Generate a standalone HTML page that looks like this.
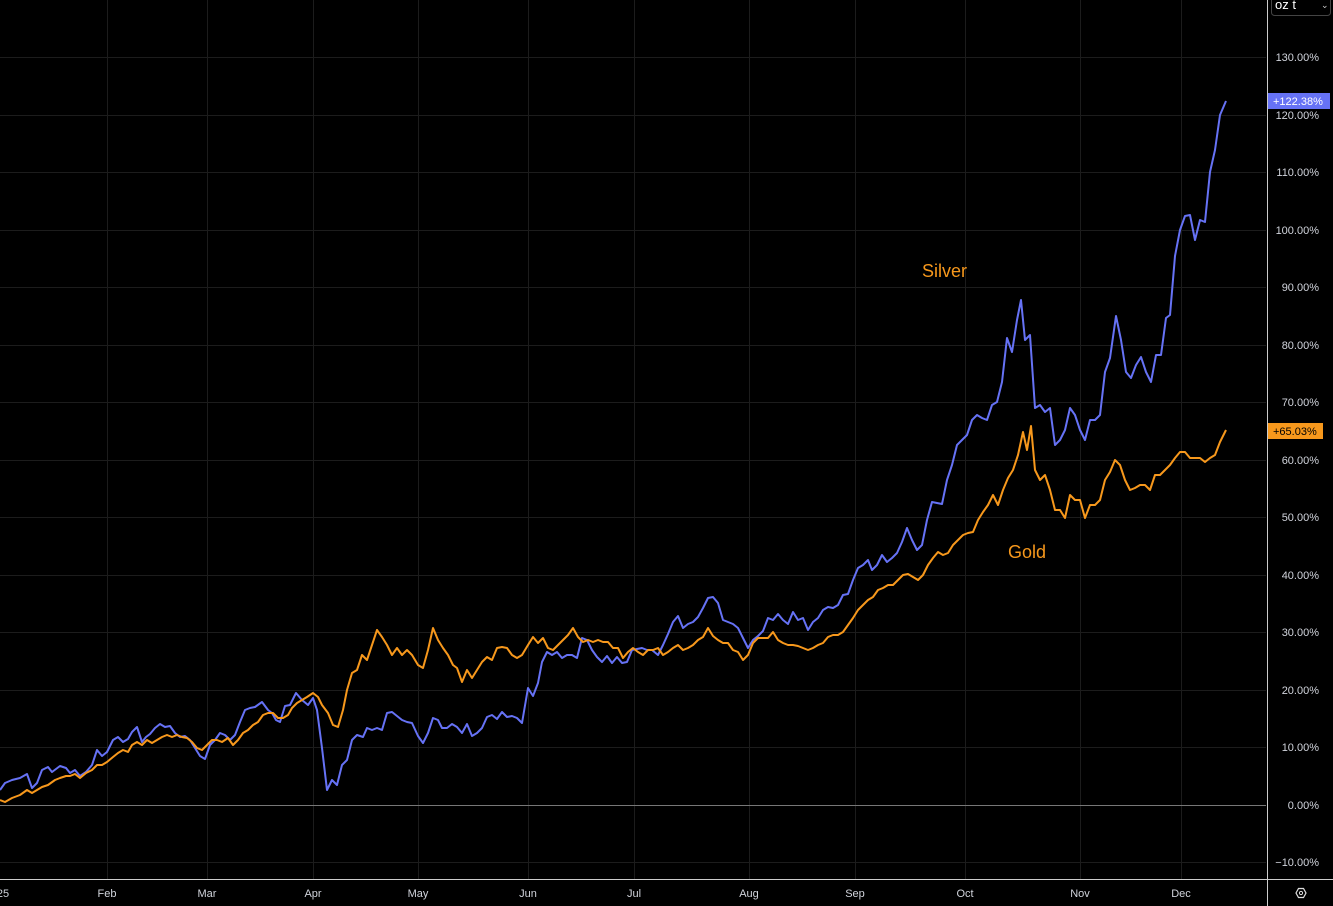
<!DOCTYPE html>
<html><head><style>
html,body{margin:0;padding:0;background:#000;width:1333px;height:906px;overflow:hidden}
svg{display:block;font-family:"Liberation Sans",sans-serif}
</style></head><body>
<svg width="1333" height="906" viewBox="0 0 1333 906">
<rect width="1333" height="906" fill="#000"/>
<g stroke="#1c1c1c" stroke-width="1">
<line x1="0" x2="1266" y1="57.5" y2="57.5"/><line x1="0" x2="1266" y1="115.5" y2="115.5"/><line x1="0" x2="1266" y1="172.5" y2="172.5"/><line x1="0" x2="1266" y1="230.5" y2="230.5"/><line x1="0" x2="1266" y1="287.5" y2="287.5"/><line x1="0" x2="1266" y1="345.5" y2="345.5"/><line x1="0" x2="1266" y1="402.5" y2="402.5"/><line x1="0" x2="1266" y1="460.5" y2="460.5"/><line x1="0" x2="1266" y1="517.5" y2="517.5"/><line x1="0" x2="1266" y1="575.5" y2="575.5"/><line x1="0" x2="1266" y1="632.5" y2="632.5"/><line x1="0" x2="1266" y1="690.5" y2="690.5"/><line x1="0" x2="1266" y1="747.5" y2="747.5"/><line x1="0" x2="1266" y1="862.5" y2="862.5"/>
<line y1="0" y2="879" x1="107.5" x2="107.5"/><line y1="0" y2="879" x1="207.5" x2="207.5"/><line y1="0" y2="879" x1="313.5" x2="313.5"/><line y1="0" y2="879" x1="418.5" x2="418.5"/><line y1="0" y2="879" x1="528.5" x2="528.5"/><line y1="0" y2="879" x1="634.5" x2="634.5"/><line y1="0" y2="879" x1="749.5" x2="749.5"/><line y1="0" y2="879" x1="855.5" x2="855.5"/><line y1="0" y2="879" x1="965.5" x2="965.5"/><line y1="0" y2="879" x1="1080.5" x2="1080.5"/><line y1="0" y2="879" x1="1181.5" x2="1181.5"/>
</g>
<line x1="0" x2="1266" y1="805.5" y2="805.5" stroke="#777" stroke-width="1"/>
<line x1="1267.5" x2="1267.5" y1="0" y2="906" stroke="#ccc" stroke-width="1"/>
<line x1="0" x2="1333" y1="879.5" y2="879.5" stroke="#ccc" stroke-width="1"/>
<polyline fill="none" stroke="#6672f5" stroke-width="2" stroke-linejoin="round" points="0,790 5,783 12,780 20,778 27,774 32,788 37,783 42,770 48,767 52,772 60,766 66,768 70,773 75,770 80,776 86,772 92,765 97,750 102,756 107,752 113,740 118,737 123,742 128,739 132,732 137,727 142,742 146,737 150,734 155,728 160,724 165,727 170,726 175,733 180,737 185,736 190,740 195,748 200,756 205,759 210,745 215,740 220,733 225,735 230,740 235,735 240,722 245,710 250,708 255,707 262,702 268,710 272,713 276,720 280,722 285,706 290,705 296,693 302,700 308,705 313,698 317,710 322,748 327,790 332,780 337,785 342,765 347,760 352,740 357,735 363,737 367,728 372,730 377,728 382,730 387,713 392,712 397,716 402,720 407,722 412,723 418,736 423,743 428,733 433,718 438,720 442,728 447,728 452,724 457,727 462,733 467,724 472,736 477,733 482,728 487,717 492,715 497,719 502,712 507,717 512,716 517,718 522,723 528,688 533,696 538,683 542,662 547,652 552,655 557,652 562,658 567,655 572,655 577,658 582,638 587,640 592,650 597,657 602,662 607,656 612,663 617,657 622,663 627,662 632,650 637,649 642,648 647,650 652,650 658,655 663,645 668,634 673,622 678,616 683,628 688,624 693,622 698,617 703,608 708,598 713,597 718,603 723,620 728,622 733,624 738,628 743,638 748,648 753,640 758,636 763,631 768,618 773,620 778,614 783,620 788,624 793,612 798,620 803,618 808,630 813,622 818,618 823,610 828,607 833,608 838,605 843,595 848,594 853,580 858,568 863,565 868,560 872,570 877,565 882,555 887,562 892,558 897,553 902,542 907,528 912,540 917,550 922,545 927,520 932,502 937,503 942,504 947,480 952,465 957,445 962,440 967,435 972,420 977,415 982,418 987,420 992,405 997,402 1002,382 1007,338 1012,352 1017,320 1021,300 1025,340 1030,335 1035,408 1040,405 1045,412 1050,408 1055,445 1060,440 1065,430 1070,408 1075,415 1080,430 1085,440 1090,420 1095,420 1100,415 1105,372 1110,358 1116,316 1121,340 1126,372 1131,378 1136,365 1141,357 1146,372 1151,382 1156,355 1161,355 1166,318 1170,315 1175,256 1180,230 1185,216 1190,215 1195,240 1200,220 1205,222 1210,172 1215,150 1220,115 1226,101"/>
<polyline fill="none" stroke="#f7981c" stroke-width="2" stroke-linejoin="round" points="0,800 5,802 12,798 20,795 27,790 32,793 37,790 42,787 48,785 55,780 60,778 66,776 70,776 75,774 80,778 86,773 92,770 97,765 102,765 107,762 113,757 118,753 123,750 128,752 132,745 137,742 142,745 147,740 152,743 157,740 162,737 167,735 172,737 177,735 182,737 187,738 192,742 197,748 202,750 207,745 212,740 217,740 222,742 228,738 233,745 238,740 243,733 248,730 253,725 258,722 263,715 268,713 273,713 278,718 283,718 288,715 292,708 297,703 302,700 307,697 313,693 318,697 322,705 328,713 333,725 338,727 343,710 347,690 352,673 357,670 362,655 367,660 372,645 377,630 382,637 387,645 392,655 397,648 402,655 407,650 412,655 418,665 423,668 428,650 433,628 438,640 443,648 448,655 453,665 457,668 462,682 467,670 472,678 477,670 482,662 487,657 492,660 497,648 502,647 507,648 512,655 517,658 522,655 528,645 533,637 538,643 543,638 548,648 553,650 558,645 563,640 568,635 573,628 578,637 583,642 588,640 593,642 598,640 603,642 608,642 613,648 618,648 623,658 628,652 633,648 638,652 643,655 648,650 653,650 658,648 663,655 668,652 673,648 678,645 683,650 688,648 693,645 698,640 703,637 708,628 713,636 718,640 723,643 728,643 733,650 738,652 743,660 748,655 753,643 758,638 763,638 768,638 773,632 778,640 783,643 788,645 793,645 798,646 803,648 808,650 813,648 818,645 823,643 828,637 833,635 838,635 843,632 848,625 853,618 858,610 863,605 868,600 873,597 878,590 883,588 888,585 893,585 898,580 903,575 908,574 913,577 918,580 923,575 928,565 933,558 938,552 943,555 948,553 953,545 958,540 963,535 968,533 973,532 978,520 983,512 988,505 993,495 998,505 1003,490 1008,478 1013,470 1018,455 1023,432 1027,450 1031,426 1035,470 1040,480 1045,475 1050,490 1055,510 1060,510 1065,518 1070,495 1075,500 1080,500 1085,518 1090,505 1095,505 1100,500 1105,480 1110,472 1115,460 1120,465 1125,480 1130,490 1135,488 1140,485 1145,485 1150,490 1155,475 1160,475 1165,470 1170,465 1175,458 1180,452 1185,452 1190,458 1195,458 1200,458 1205,462 1210,458 1215,455 1220,442 1226,430"/>
<text x="922" y="277" fill="#f7981c" font-size="18">Silver</text>
<text x="1008" y="558" fill="#f7981c" font-size="18">Gold</text>
<g fill="#d1d4dc" font-size="11" text-anchor="end">
<text x="1319" y="61">130.00%</text><text x="1319" y="119">120.00%</text><text x="1319" y="176">110.00%</text><text x="1319" y="234">100.00%</text><text x="1319" y="291">90.00%</text><text x="1319" y="349">80.00%</text><text x="1319" y="406">70.00%</text><text x="1319" y="464">60.00%</text><text x="1319" y="521">50.00%</text><text x="1319" y="579">40.00%</text><text x="1319" y="636">30.00%</text><text x="1319" y="694">20.00%</text><text x="1319" y="751">10.00%</text><text x="1319" y="809">0.00%</text><text x="1319" y="866">−10.00%</text>
</g>
<rect x="1268" y="93" width="62" height="16" fill="#6672f5"/>
<text x="1273" y="105" fill="#fff" font-size="11">+122.38%</text>
<rect x="1268" y="423" width="55" height="16" fill="#f7981c"/>
<text x="1273" y="435" fill="#000" font-size="11">+65.03%</text>
<rect x="1271.5" y="-6.5" width="59" height="22" rx="3" fill="none" stroke="#444"/>
<text x="1275" y="9" fill="#fff" font-size="13">oz t</text>
<text x="1321" y="8" fill="#ccc" font-size="9">⌄</text>
<g fill="#d1d4dc" font-size="11" text-anchor="middle">
<text x="3" y="897">25</text><text x="107" y="897">Feb</text><text x="207" y="897">Mar</text><text x="313" y="897">Apr</text><text x="418" y="897">May</text><text x="528" y="897">Jun</text><text x="634" y="897">Jul</text><text x="749" y="897">Aug</text><text x="855" y="897">Sep</text><text x="965" y="897">Oct</text><text x="1080" y="897">Nov</text><text x="1181" y="897">Dec</text>
</g>
<polygon points="1296,893 1298.5,888.5 1303.5,888.5 1306,893 1303.5,897.5 1298.5,897.5" fill="none" stroke="#ddd" stroke-width="1.2"/>
<circle cx="1301" cy="893" r="1.6" fill="none" stroke="#ddd" stroke-width="1"/>
</svg>
</body></html>
